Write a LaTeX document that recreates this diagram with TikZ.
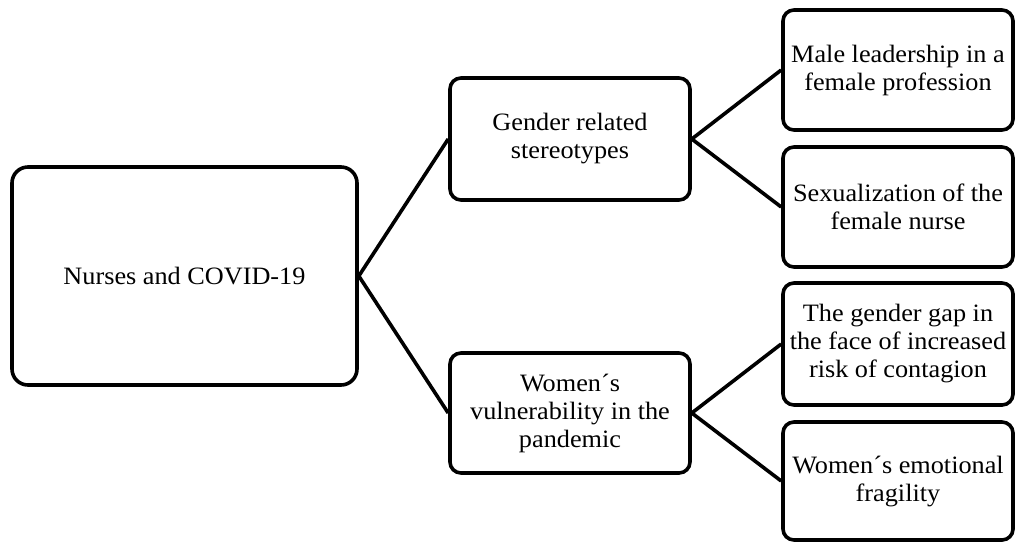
\documentclass[tikz,border=0pt]{standalone}
\usepackage{fontspec}
\setmainfont{Liberation Serif}[FakeStretch=1.05]
\usetikzlibrary{positioning}
\tikzset{
  rootbox/.style={draw=black,line width=3.6pt,rounded corners=16pt,fill=white,align=center,inner sep=0pt,font=\fontsize{25}{28}\selectfont},
  themebox/.style={draw=black,line width=3.6pt,rounded corners=11pt,fill=white,align=center,inner sep=0pt,minimum width=240pt,font=\fontsize{25}{28}\selectfont},
  subbox/.style={themebox,minimum width=230pt},
  link/.style={line width=3.6pt,draw=black}
}
\begin{document}
\begin{tikzpicture}[x=1pt,y=-1pt]
  \useasboundingbox (0,0) rectangle (1016,542);
  % root and the two themes
  \node[rootbox,minimum width=345pt,minimum height=218pt] (nurses) at (184.5,276) {Nurses and COVID-19};
  \node[themebox,minimum height=122pt] (stereo) at (570,139) {Gender related\\stereotypes};
  \node[themebox,minimum height=120pt] (vulner) at (570,413) {Women\textasciiacute s\\vulnerability in the\\pandemic};

  % subthemes
  \node[subbox,minimum height=120pt] (leader) at (898,70) {Male leadership in a\\female profession};
  \node[subbox,minimum height=120pt] (sexual) at (898,207) {Sexualization of the\\female nurse};
  \node[subbox,minimum height=122pt] (gap) at (898,344) {The gender gap in\\the face of increased\\risk of contagion};
  \node[subbox,minimum height=118pt] (fragile) at (898,481) {Women\textasciiacute s emotional\\fragility};

  \draw[link] (nurses.east) -- (stereo.west);
  \draw[link] (nurses.east) -- (vulner.west);
  \draw[link] (stereo.east) -- (leader.west);
  \draw[link] (stereo.east) -- (sexual.west);
  \draw[link] (vulner.east) -- (gap.west);
  \draw[link] (vulner.east) -- (fragile.west);
\end{tikzpicture}
\end{document}
